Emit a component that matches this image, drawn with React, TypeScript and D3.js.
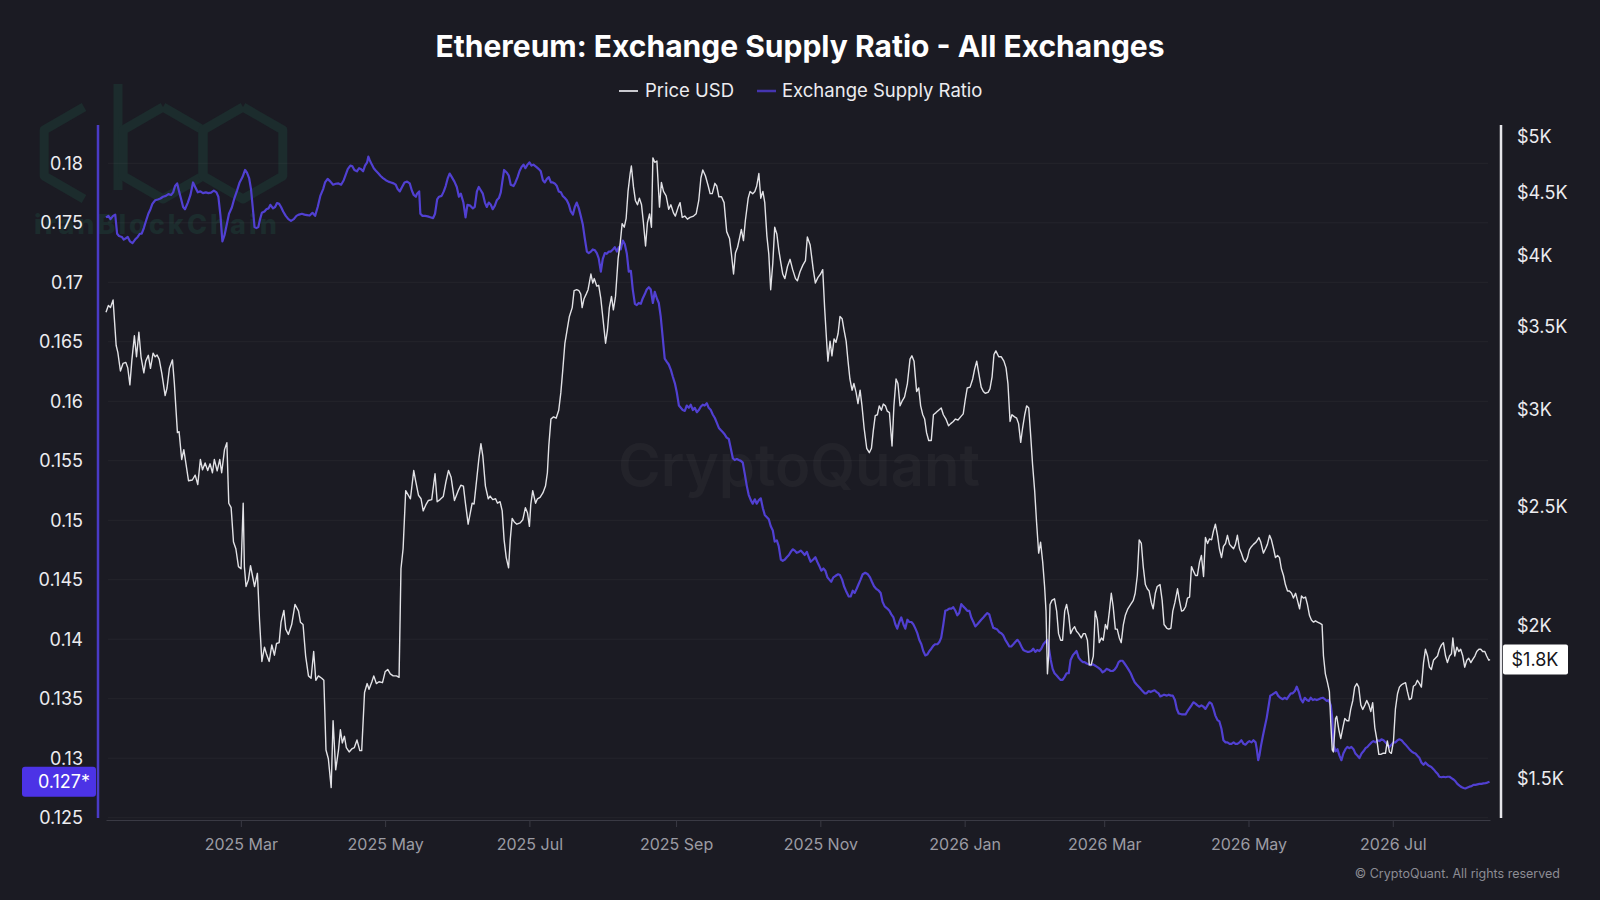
import React, { useEffect, useRef } from 'react';
import * as d3 from 'd3';

const TITLE = 'Ethereum: Exchange Supply Ratio - All Exchanges';
const LEGEND = ['Price USD', 'Exchange Supply Ratio'];
const COPYRIGHT = '\u00A9 CryptoQuant. All rights reserved';
const WATERMARK = 'CryptoQuant';
const LOGO_TEXT = 'iranBlockChain';

// day offsets counted from 2025-01-01 (UTC)
const START = Date.UTC(2025, 0, 1);

// [day, ETH price in USD]
const PRICE: [number, number][] = [
  [2.0, 3600], [3.0, 3646], [3.9, 3631], [5.0, 3683], [6.3, 3382], [7.0, 3339], [8.1, 3224], [9.2, 3270],
  [10.4, 3276], [11.2, 3243], [12.1, 3141], [12.9, 3284], [14.0, 3444], [14.9, 3311], [15.9, 3467], [16.8, 3311],
  [18.0, 3213], [18.8, 3284], [19.9, 3320], [20.8, 3240], [21.9, 3334], [22.8, 3311], [23.6, 3322], [24.5, 3295],
  [25.6, 3210], [27.0, 3079], [27.8, 3123], [28.8, 3240], [30.1, 3292], [30.9, 3149], [32.2, 2872], [32.9, 2877],
  [34.0, 2731], [34.9, 2782], [36.9, 2624], [38.5, 2628], [39.7, 2652], [40.8, 2606], [41.9, 2731], [42.8, 2679],
  [43.9, 2713], [45.0, 2675], [46.0, 2709], [47.0, 2664], [47.8, 2731], [49.0, 2673], [50.1, 2731], [50.9, 2664],
  [52.1, 2782], [53.1, 2818], [53.9, 2516], [54.9, 2495], [55.9, 2339], [56.9, 2310], [58.0, 2234], [59.1, 2225],
  [60.0, 2516], [60.5, 2234], [61.2, 2152], [62.2, 2179], [63.1, 2238], [63.9, 2197], [64.8, 2152], [66.0, 2206],
  [66.9, 2021], [67.9, 1870], [69.0, 1921], [69.8, 1897], [71.0, 1870], [72.1, 1929], [73.2, 1892], [74.1, 1934],
  [75.2, 1937], [76.0, 2013], [77.2, 2058], [78.0, 1987], [79.1, 1967], [80.5, 2004], [81.9, 2081], [83.4, 2055],
  [84.2, 2013], [85.3, 2004], [86.4, 1889], [87.6, 1820], [88.7, 1812], [89.8, 1905], [90.7, 1805], [91.8, 1820],
  [93.2, 1812], [94.1, 1805], [95.0, 1584], [96.0, 1558], [97.2, 1476], [98.0, 1673], [99.1, 1526], [100.3, 1584],
  [101.1, 1645], [101.9, 1605], [102.8, 1625], [103.6, 1591], [104.8, 1578], [105.9, 1587], [107.0, 1591], [108.1, 1614],
  [109.3, 1582], [110.1, 1582], [111.3, 1764], [112.4, 1794], [113.2, 1775], [114.4, 1800], [115.2, 1820], [116.3, 1794],
  [117.4, 1800], [118.9, 1797], [120.0, 1834], [121.1, 1842], [122.2, 1827], [123.4, 1820], [124.8, 1820], [125.9, 1815],
  [126.7, 2225], [127.6, 2310], [128.7, 2576], [129.8, 2554], [130.7, 2537], [132.1, 2675], [132.9, 2624], [134.1, 2554],
  [135.2, 2537], [136.1, 2480], [137.2, 2508], [138.3, 2529], [139.7, 2533], [141.1, 2659], [142.0, 2523], [143.2, 2533],
  [144.6, 2548], [145.7, 2619], [146.8, 2675], [147.9, 2641], [149.3, 2529], [150.9, 2576], [152.0, 2602], [153.1, 2598],
  [154.0, 2512], [155.1, 2419], [156.0, 2470], [156.8, 2516], [157.6, 2512], [158.8, 2641], [159.6, 2731], [160.5, 2813],
  [161.3, 2750], [162.4, 2598], [163.6, 2537], [164.4, 2550], [165.5, 2533], [166.7, 2537], [167.5, 2516], [168.6, 2523],
  [169.5, 2480], [170.3, 2349], [171.2, 2272], [172.2, 2229], [172.9, 2349], [173.7, 2445], [174.6, 2429], [175.7, 2419],
  [177.1, 2425], [178.2, 2439], [179.3, 2495], [180.2, 2470], [181.0, 2409], [181.6, 2512], [182.4, 2576], [183.6, 2516],
  [184.4, 2537], [185.5, 2544], [186.7, 2565], [187.8, 2598], [188.6, 2664], [189.2, 2801], [190.1, 2946], [191.2, 2958],
  [192.3, 2951], [193.4, 2995], [194.3, 3097], [195.1, 3229], [196.0, 3396], [197.1, 3497], [197.9, 3571], [199.1, 3631],
  [199.9, 3749], [201.0, 3755], [201.9, 3749], [202.7, 3724], [203.3, 3631], [204.1, 3692], [205.0, 3724], [205.8, 3755],
  [207.0, 3867], [207.8, 3802], [208.4, 3834], [209.5, 3780], [210.3, 3786], [211.2, 3692], [212.0, 3571], [213.2, 3396],
  [214.0, 3482], [214.8, 3631], [215.7, 3708], [216.5, 3616], [217.4, 3708], [218.5, 3981], [219.4, 4100], [220.2, 4250],
  [221.1, 4222], [221.9, 4293], [222.7, 4515], [223.6, 4669], [224.1, 4735], [225.0, 4553], [225.8, 4439], [226.7, 4403],
  [227.5, 4458], [228.4, 4403], [229.2, 4257], [230.1, 4076], [230.9, 4257], [231.8, 4329], [232.6, 4222], [233.2, 4808],
  [234.0, 4768], [234.9, 4780], [236.0, 4384], [236.8, 4591], [237.7, 4515], [238.8, 4477], [239.9, 4366], [240.8, 4403],
  [241.9, 4337], [242.7, 4311], [243.9, 4384], [244.7, 4421], [245.6, 4300], [246.7, 4311], [247.8, 4286], [248.9, 4300],
  [250.4, 4311], [251.5, 4329], [252.6, 4439], [253.5, 4630], [254.3, 4700], [255.4, 4650], [256.6, 4561], [257.4, 4496],
  [258.3, 4496], [259.4, 4584], [260.2, 4561], [261.1, 4470], [262.2, 4470], [263.3, 4421], [264.4, 4187], [265.6, 4134],
  [266.4, 4015], [267.3, 3867], [268.1, 4022], [269.0, 4066], [269.8, 4134], [270.6, 4204], [271.5, 4117], [272.3, 4275],
  [273.5, 4458], [274.3, 4515], [275.4, 4496], [276.3, 4515], [277.1, 4561], [278.0, 4669], [278.8, 4458], [279.7, 4515],
  [280.5, 4421], [281.4, 4152], [282.2, 4015], [283.0, 3755], [283.9, 3948], [284.7, 4222], [285.6, 4169], [286.4, 4049],
  [287.3, 3948], [288.1, 3867], [289.0, 3834], [290.1, 3922], [291.2, 3975], [292.3, 3899], [293.5, 3834], [294.3, 3818],
  [295.4, 3883], [296.6, 3932], [297.7, 3965], [298.5, 4145], [299.7, 4083], [301.0, 3899], [301.9, 3802], [303.0, 3843],
  [304.1, 3867], [305.0, 3899], [305.8, 3631], [306.7, 3396], [307.2, 3284], [308.1, 3410], [308.9, 3317], [309.8, 3424],
  [310.6, 3402], [311.5, 3459], [312.3, 3571], [313.2, 3556], [314.0, 3482], [314.9, 3410], [315.7, 3284], [316.5, 3176],
  [317.4, 3110], [318.2, 3149], [319.1, 3097], [319.9, 3033], [320.8, 3110], [321.6, 3020], [322.5, 2897], [323.6, 2789],
  [324.7, 2766], [325.6, 2789], [326.4, 2884], [327.2, 2965], [328.1, 2970], [328.9, 3020], [329.8, 2995], [330.6, 3030],
  [331.5, 3020], [332.3, 2990], [333.2, 2982], [334.3, 2801], [335.1, 3020], [336.0, 3176], [336.8, 3149], [337.7, 3020],
  [338.5, 3045], [339.6, 3071], [340.8, 3149], [341.9, 3297], [342.7, 3317], [343.6, 3284], [344.7, 3102], [345.6, 3123],
  [346.4, 3020], [347.3, 2970], [348.1, 2946], [348.9, 2872], [349.8, 2830], [350.9, 2830], [351.8, 2970], [352.9, 2982],
  [354.0, 2995], [355.1, 3008], [356.0, 2970], [357.1, 2946], [358.2, 2909], [359.1, 2921], [360.2, 2933], [361.1, 2946],
  [362.2, 2941], [363.3, 2958], [364.4, 2975], [365.3, 3058], [366.1, 3123], [367.3, 3128], [368.4, 3176], [369.2, 3234],
  [370.1, 3284], [370.9, 3216], [372.0, 3128], [372.9, 3102], [373.7, 3092], [374.9, 3097], [375.7, 3118], [376.6, 3189],
  [377.4, 3325], [378.2, 3348], [379.4, 3311], [380.5, 3311], [381.6, 3284], [382.5, 3243], [383.3, 3149], [384.2, 2933],
  [385.0, 2970], [386.1, 2958], [387.0, 2951], [387.8, 2921], [388.7, 2820], [389.5, 2897], [390.4, 2970], [391.2, 3020],
  [392.1, 3008], [392.9, 2860], [393.7, 2708], [394.6, 2576], [395.4, 2429], [396.3, 2291], [397.1, 2339], [398.0, 2253],
  [398.8, 2152], [399.4, 2055], [400.0, 1827], [400.5, 1889], [401.1, 2081], [401.9, 2097], [403.0, 2103], [403.9, 2055],
  [404.7, 1970], [405.6, 1946], [406.4, 1946], [407.3, 2055], [408.1, 2081], [409.0, 2038], [409.8, 1970], [410.7, 1987],
  [411.5, 1996], [412.3, 1979], [413.2, 1970], [414.3, 1954], [415.2, 1970], [416.0, 1970], [416.9, 1946], [417.7, 1858],
  [418.5, 1858], [419.4, 1889], [420.2, 2055], [421.1, 2021], [421.9, 1937], [422.8, 1954], [423.6, 1946], [424.5, 2004],
  [425.3, 1987], [426.2, 2055], [427.0, 2125], [427.8, 2072], [428.7, 1987], [429.5, 1987], [430.4, 1954], [431.2, 1937],
  [432.1, 2004], [432.9, 2038], [434.0, 2064], [435.2, 2081], [436.3, 2097], [437.1, 2125], [438.0, 2197], [438.8, 2349],
  [439.7, 2333], [440.5, 2234], [441.4, 2160], [442.2, 2143], [443.0, 2134], [443.9, 2089], [444.7, 2064], [445.6, 2125],
  [446.4, 2152], [447.6, 2160], [448.5, 2097], [449.3, 2004], [450.5, 1990], [451.3, 1987], [452.2, 1990], [453.0, 2055],
  [453.9, 2089], [455.0, 2143], [455.8, 2097], [456.7, 2055], [457.5, 2058], [458.4, 2072], [459.2, 2106], [460.1, 2110],
  [460.9, 2234], [461.7, 2216], [462.6, 2197], [463.4, 2197], [464.3, 2253], [465.1, 2281], [466.0, 2193], [466.8, 2359],
  [467.7, 2333], [468.5, 2353], [469.4, 2349], [470.2, 2389], [471.0, 2419], [471.9, 2369], [472.7, 2310], [473.6, 2272],
  [474.4, 2320], [475.3, 2333], [476.1, 2369], [477.0, 2329], [477.8, 2320], [478.7, 2310], [479.5, 2329], [480.3, 2369],
  [481.2, 2310], [482.0, 2291], [482.9, 2263], [483.7, 2253], [484.6, 2272], [485.4, 2306], [486.3, 2320], [487.1, 2329],
  [488.2, 2339], [489.4, 2359], [490.2, 2339], [491.3, 2291], [492.2, 2310], [493.0, 2329], [493.9, 2369], [494.7, 2349],
  [495.6, 2310], [496.4, 2272], [497.3, 2281], [498.1, 2272], [498.9, 2225], [499.8, 2197], [500.6, 2160], [501.5, 2134],
  [502.3, 2134], [503.2, 2125], [504.0, 2106], [504.9, 2125], [505.7, 2097], [506.6, 2064], [507.4, 2114], [508.2, 2106],
  [509.1, 2110], [509.9, 2081], [510.8, 2038], [511.6, 2021], [512.5, 2013], [513.3, 2018], [514.2, 2013], [515.3, 2008],
  [516.1, 2004], [516.7, 1889], [517.5, 1827], [518.4, 1797], [519.2, 1767], [519.8, 1666], [520.4, 1584], [520.9, 1578],
  [521.8, 1680], [522.3, 1687], [523.2, 1645], [524.0, 1618], [524.9, 1652], [525.7, 1680], [526.6, 1673], [527.4, 1673],
  [528.2, 1709], [529.1, 1738], [529.9, 1782], [530.8, 1794], [531.6, 1782], [532.5, 1723], [533.3, 1709], [534.2, 1723],
  [535.0, 1738], [535.9, 1723], [536.7, 1702], [537.5, 1731], [538.4, 1652], [539.2, 1618], [540.1, 1571], [540.9, 1571],
  [541.8, 1574], [542.9, 1574], [543.7, 1611], [544.6, 1578], [545.4, 1574], [546.3, 1611], [547.1, 1709], [548.0, 1760],
  [548.8, 1782], [549.7, 1790], [550.5, 1794], [551.4, 1797], [552.2, 1767], [553.0, 1741], [553.9, 1745], [554.7, 1785],
  [555.6, 1790], [556.4, 1805], [557.3, 1794], [558.1, 1782], [559.0, 1866], [559.8, 1913], [560.7, 1889], [561.5, 1850],
  [562.3, 1842], [563.2, 1874], [564.0, 1881], [564.9, 1889], [565.7, 1913], [566.6, 1929], [567.4, 1937], [568.3, 1889],
  [569.1, 1866], [570.0, 1889], [570.8, 1897], [571.4, 1954], [572.2, 1889], [573.1, 1921], [573.9, 1905], [574.7, 1913],
  [575.6, 1889], [576.4, 1850], [577.3, 1874], [578.1, 1881], [579.0, 1866], [579.8, 1877], [580.7, 1889], [581.5, 1905],
  [582.4, 1913], [583.2, 1913], [584.0, 1905], [584.9, 1905], [585.7, 1889], [586.6, 1874], [587.1, 1877],
];

// [day, exchange supply ratio]
const RATIO: [number, number][] = [
  [2.0, 0.17546], [3.0, 0.17558], [3.9, 0.17531], [5.0, 0.17558], [5.9, 0.17569], [6.7, 0.17408], [7.5, 0.17389], [8.7, 0.17381],
  [9.5, 0.17359], [10.4, 0.1737], [11.2, 0.17381], [12.1, 0.17344], [13.2, 0.17329], [14.3, 0.17359], [15.4, 0.17381], [16.3, 0.17408],
  [17.1, 0.17408], [18.0, 0.17456], [18.8, 0.17509], [19.9, 0.17576], [20.8, 0.17614], [21.6, 0.17659], [22.8, 0.17689], [23.9, 0.17696],
  [25.0, 0.17704], [26.1, 0.17719], [27.3, 0.17726], [28.4, 0.17741], [29.5, 0.17734], [30.4, 0.17756], [31.2, 0.17809], [32.1, 0.17831],
  [32.9, 0.17764], [33.8, 0.17696], [34.6, 0.17633], [35.4, 0.17614], [36.6, 0.1767], [37.7, 0.17734], [38.8, 0.17839], [39.7, 0.17801],
  [40.8, 0.17756], [41.9, 0.17764], [43.0, 0.17749], [44.2, 0.17756], [45.3, 0.17749], [46.4, 0.17753], [47.6, 0.17771], [48.7, 0.17756],
  [49.5, 0.17719], [50.4, 0.17558], [51.2, 0.17344], [52.1, 0.17396], [52.9, 0.17471], [54.0, 0.17576], [55.2, 0.17629], [56.3, 0.17708],
  [57.4, 0.17771], [58.5, 0.17839], [59.7, 0.17884], [60.8, 0.17944], [61.6, 0.17921], [62.5, 0.17876], [63.3, 0.17783], [64.2, 0.17595],
  [64.8, 0.17464], [65.6, 0.17456], [66.4, 0.17464], [67.0, 0.1752], [67.9, 0.17584], [69.0, 0.17595], [69.8, 0.17614], [70.7, 0.17621],
  [71.5, 0.17651], [72.6, 0.17621], [73.5, 0.17633], [74.3, 0.17666], [75.2, 0.17659], [76.0, 0.17633], [76.9, 0.17595], [78.0, 0.17558],
  [79.1, 0.17531], [80.2, 0.17516], [81.4, 0.17531], [82.5, 0.17558], [83.6, 0.17569], [84.8, 0.17576], [85.9, 0.17569], [87.0, 0.17565],
  [88.1, 0.17561], [89.3, 0.17584], [90.4, 0.17558], [91.5, 0.17633], [92.6, 0.17726], [93.8, 0.17783], [94.6, 0.17839], [95.7, 0.17869],
  [96.9, 0.17846], [98.0, 0.1782], [99.1, 0.17828], [100.3, 0.17831], [101.4, 0.1782], [102.5, 0.17858], [103.4, 0.17906], [104.2, 0.17951],
  [105.3, 0.17981], [106.2, 0.17974], [107.0, 0.17944], [108.1, 0.17933], [109.0, 0.17959], [109.8, 0.17951], [110.7, 0.17933], [111.5, 0.17981],
  [112.4, 0.18008], [112.9, 0.18056], [113.5, 0.18026], [114.4, 0.17989], [115.2, 0.17959], [116.0, 0.1794], [117.2, 0.17914], [118.0, 0.17895],
  [119.1, 0.17876], [120.3, 0.17858], [121.4, 0.17846], [122.5, 0.17839], [123.6, 0.17831], [124.5, 0.1782], [125.3, 0.17783], [126.2, 0.17764],
  [127.0, 0.17794], [128.2, 0.17839], [129.3, 0.17846], [130.4, 0.17831], [131.3, 0.17771], [132.1, 0.17734], [133.0, 0.17719], [133.5, 0.17745],
  [134.4, 0.17764], [134.9, 0.17576], [135.8, 0.17558], [136.9, 0.17558], [138.0, 0.17554], [139.1, 0.17546], [140.3, 0.17539], [141.1, 0.17576],
  [142.0, 0.17696], [142.8, 0.17719], [143.9, 0.17726], [144.8, 0.17764], [145.6, 0.17809], [146.5, 0.17876], [147.3, 0.17914], [148.2, 0.17884],
  [149.3, 0.17846], [150.3, 0.17801], [151.2, 0.17719], [152.0, 0.17745], [153.1, 0.1767], [154.0, 0.17546], [154.8, 0.17651], [156.0, 0.17644],
  [157.1, 0.17621], [157.9, 0.17633], [158.8, 0.17764], [159.6, 0.17801], [160.5, 0.17771], [161.3, 0.17745], [162.2, 0.1767], [163.0, 0.17633],
  [163.8, 0.1767], [164.7, 0.17651], [165.5, 0.17614], [166.4, 0.17644], [167.2, 0.17689], [168.1, 0.17708], [168.9, 0.17756], [169.5, 0.17839],
  [170.3, 0.17944], [171.5, 0.17921], [172.3, 0.17895], [173.1, 0.1782], [174.3, 0.17809], [175.1, 0.17839], [176.0, 0.17884], [176.8, 0.17933],
  [177.7, 0.1797], [178.5, 0.17989], [179.3, 0.17959], [180.2, 0.17989], [181.0, 0.18008], [181.9, 0.17981], [182.7, 0.17989], [183.9, 0.1797],
  [185.0, 0.17951], [185.8, 0.17933], [186.7, 0.17858], [187.5, 0.17839], [188.4, 0.17869], [189.2, 0.17884], [190.1, 0.17839], [190.9, 0.17839],
  [191.7, 0.17831], [192.6, 0.17809], [193.4, 0.17764], [194.3, 0.17756], [195.1, 0.17726], [196.0, 0.17708], [196.8, 0.17689], [197.7, 0.17651],
  [198.5, 0.17595], [199.4, 0.17569], [200.2, 0.17633], [201.0, 0.1767], [201.9, 0.17621], [202.7, 0.17558], [203.6, 0.17483], [204.4, 0.1737],
  [205.3, 0.17258], [206.1, 0.17246], [207.0, 0.17258], [207.8, 0.17276], [208.7, 0.17269], [209.5, 0.17246], [210.3, 0.17201], [211.2, 0.17089],
  [212.0, 0.17194], [212.9, 0.17246], [213.7, 0.17239], [214.6, 0.17258], [215.4, 0.17258], [216.3, 0.17276], [217.1, 0.17295], [218.0, 0.17258],
  [218.8, 0.17295], [219.6, 0.17276], [220.5, 0.17351], [221.3, 0.17321], [222.2, 0.17239], [223.0, 0.17089], [223.9, 0.17096], [224.7, 0.16939],
  [225.6, 0.16819], [226.4, 0.16808], [227.2, 0.16826], [228.1, 0.16819], [228.9, 0.16864], [229.8, 0.16901], [230.6, 0.16939], [231.5, 0.16958],
  [232.3, 0.16939], [233.2, 0.16826], [234.0, 0.1692], [234.9, 0.16864], [235.7, 0.16826], [236.5, 0.16714], [237.4, 0.16526], [238.2, 0.16358],
  [239.1, 0.16331], [239.9, 0.16309], [240.8, 0.16264], [241.6, 0.16208], [242.5, 0.16151], [243.3, 0.16076], [244.2, 0.15964], [245.0, 0.15945],
  [245.8, 0.15926], [246.7, 0.15919], [247.5, 0.15964], [248.4, 0.15945], [249.2, 0.15971], [250.1, 0.15926], [250.9, 0.15945], [251.8, 0.15908],
  [252.6, 0.15926], [253.5, 0.15956], [254.3, 0.15971], [255.1, 0.15964], [256.0, 0.15983], [256.8, 0.15945], [257.7, 0.15926], [258.5, 0.15889],
  [259.4, 0.15859], [260.2, 0.15821], [261.1, 0.15776], [261.9, 0.15758], [262.8, 0.15739], [263.6, 0.1572], [264.4, 0.15694], [265.3, 0.15683],
  [266.1, 0.15608], [267.0, 0.15521], [267.8, 0.15506], [268.7, 0.15514], [269.5, 0.15506], [270.4, 0.15499], [271.2, 0.15484], [272.1, 0.15383],
  [272.9, 0.15289], [273.7, 0.15214], [274.6, 0.15169], [275.4, 0.15139], [276.3, 0.15176], [277.1, 0.15139], [278.0, 0.15169], [278.8, 0.15184],
  [279.7, 0.15101], [280.5, 0.15045], [281.4, 0.15026], [282.2, 0.15008], [283.0, 0.14951], [283.9, 0.14914], [284.7, 0.1482], [285.6, 0.14831],
  [286.4, 0.14783], [287.3, 0.1467], [288.1, 0.14659], [289.0, 0.1467], [289.8, 0.14689], [290.7, 0.14708], [291.5, 0.14734], [292.3, 0.14756],
  [293.2, 0.14745], [294.0, 0.14726], [294.9, 0.14734], [295.7, 0.14745], [296.6, 0.14726], [297.4, 0.14708], [298.3, 0.14734], [299.1, 0.14689],
  [299.9, 0.14651], [301.0, 0.1467], [301.9, 0.14689], [302.7, 0.14651], [303.6, 0.14614], [304.4, 0.14576], [305.3, 0.14595], [306.1, 0.14576],
  [307.0, 0.1452], [307.8, 0.14501], [308.6, 0.14483], [309.5, 0.1452], [310.3, 0.14531], [311.5, 0.14546], [312.3, 0.14539], [313.2, 0.14501],
  [314.0, 0.14445], [314.8, 0.14408], [316.0, 0.14359], [316.8, 0.14359], [317.7, 0.14408], [318.5, 0.14389], [319.4, 0.14426], [320.2, 0.14464],
  [321.0, 0.14501], [321.9, 0.14546], [323.0, 0.14558], [324.1, 0.14546], [325.0, 0.1452], [325.8, 0.14483], [326.7, 0.14445], [327.5, 0.14426],
  [328.7, 0.14408], [329.5, 0.14389], [330.3, 0.14314], [331.2, 0.14276], [332.3, 0.14258], [333.2, 0.14239], [334.0, 0.14209], [334.9, 0.14183],
  [335.7, 0.14126], [336.5, 0.14089], [337.4, 0.14145], [338.2, 0.14183], [339.1, 0.14126], [339.9, 0.14089], [340.8, 0.14164], [341.6, 0.14145],
  [342.5, 0.14145], [343.3, 0.14126], [344.2, 0.14089], [345.0, 0.14051], [345.8, 0.13995], [346.7, 0.13958], [347.5, 0.13901], [348.4, 0.13864],
  [349.2, 0.13871], [350.1, 0.13901], [350.9, 0.1392], [351.8, 0.13946], [352.6, 0.13958], [353.5, 0.13958], [354.3, 0.13976], [355.1, 0.14014],
  [356.0, 0.14126], [356.8, 0.14239], [357.7, 0.14246], [358.5, 0.14258], [359.4, 0.14258], [360.2, 0.14269], [361.1, 0.14239], [361.9, 0.14201],
  [362.7, 0.1422], [363.6, 0.14295], [364.4, 0.14276], [365.3, 0.14258], [366.1, 0.14239], [367.0, 0.14239], [367.8, 0.14183], [368.7, 0.14145],
  [369.5, 0.14108], [370.4, 0.14126], [371.2, 0.14145], [372.0, 0.14164], [372.9, 0.14183], [373.7, 0.14201], [374.6, 0.1422], [375.4, 0.14209],
  [376.3, 0.14145], [377.1, 0.14096], [378.0, 0.14089], [378.8, 0.14081], [379.7, 0.14059], [380.5, 0.14051], [381.3, 0.14033], [382.2, 0.13995],
  [383.0, 0.13969], [383.9, 0.13939], [384.7, 0.13939], [385.6, 0.13958], [386.4, 0.13976], [387.3, 0.13995], [388.1, 0.13976], [389.0, 0.13939],
  [389.8, 0.13909], [390.6, 0.13901], [391.5, 0.13894], [392.3, 0.13894], [393.2, 0.13901], [394.0, 0.1392], [394.9, 0.13894], [395.7, 0.13909],
  [396.6, 0.13901], [397.4, 0.1392], [398.3, 0.13958], [399.1, 0.13976], [399.9, 0.13995], [400.5, 0.13939], [401.4, 0.13826], [402.2, 0.13751],
  [403.0, 0.13714], [403.9, 0.13695], [404.7, 0.13676], [405.6, 0.13658], [406.4, 0.13658], [407.3, 0.13684], [408.1, 0.13714], [409.0, 0.13714],
  [409.8, 0.13826], [410.7, 0.13864], [411.5, 0.13883], [412.3, 0.13901], [413.2, 0.13845], [414.0, 0.13826], [414.9, 0.13808], [415.7, 0.13808],
  [416.6, 0.13796], [417.4, 0.13789], [418.3, 0.13781], [419.1, 0.13789], [419.9, 0.13781], [420.8, 0.1377], [421.6, 0.13759], [422.5, 0.13744],
  [423.3, 0.13721], [424.2, 0.13733], [425.0, 0.13751], [425.9, 0.13744], [426.7, 0.13733], [427.6, 0.13733], [428.4, 0.13744], [429.3, 0.1377],
  [430.1, 0.13808], [430.9, 0.13819], [431.8, 0.13819], [432.6, 0.13796], [433.5, 0.1377], [434.3, 0.13744], [435.2, 0.13714], [436.0, 0.13676],
  [436.9, 0.13639], [437.7, 0.1362], [438.6, 0.13601], [439.4, 0.13583], [440.2, 0.13564], [441.1, 0.13545], [441.9, 0.13545], [442.8, 0.13564],
  [443.6, 0.13556], [444.5, 0.13564], [445.3, 0.13571], [446.2, 0.13556], [447.0, 0.13545], [447.7, 0.13519], [448.5, 0.13526], [449.3, 0.13534],
  [450.5, 0.13526], [451.3, 0.13534], [452.2, 0.13526], [453.0, 0.13526], [453.9, 0.13489], [454.7, 0.13414], [455.5, 0.13376], [456.7, 0.13369],
  [457.5, 0.13369], [458.4, 0.13369], [459.2, 0.13395], [460.1, 0.13421], [460.9, 0.13444], [461.7, 0.1347], [462.6, 0.13459], [463.4, 0.13444],
  [464.3, 0.13433], [465.1, 0.13444], [466.0, 0.13433], [466.8, 0.13414], [467.7, 0.13444], [468.5, 0.1347], [469.4, 0.13459], [470.2, 0.13414],
  [471.0, 0.13358], [471.9, 0.1332], [472.7, 0.13309], [473.6, 0.13245], [474.4, 0.13151], [475.3, 0.13133], [476.1, 0.13133], [477.0, 0.13121],
  [477.8, 0.13121], [478.7, 0.13133], [479.5, 0.13121], [480.3, 0.13121], [481.2, 0.13133], [482.0, 0.13151], [482.9, 0.13121], [483.7, 0.13114],
  [484.6, 0.13133], [485.4, 0.13144], [486.3, 0.13133], [487.1, 0.13151], [488.0, 0.13133], [488.5, 0.13076], [489.1, 0.12983], [489.6, 0.1302],
  [490.2, 0.13095], [491.1, 0.13189], [491.9, 0.13264], [492.7, 0.13339], [493.6, 0.13451], [494.2, 0.13526], [495.0, 0.13534], [495.8, 0.13545],
  [496.7, 0.13556], [497.5, 0.13526], [498.4, 0.13508], [499.5, 0.13496], [500.4, 0.13508], [501.2, 0.13496], [502.0, 0.13519], [502.9, 0.13545],
  [503.7, 0.13545], [504.6, 0.13564], [505.4, 0.13601], [506.3, 0.13556], [507.1, 0.13496], [508.0, 0.1347], [508.8, 0.13508], [509.7, 0.13489],
  [510.5, 0.13481], [511.3, 0.13508], [512.2, 0.13489], [513.0, 0.13496], [513.9, 0.13489], [514.7, 0.13496], [515.6, 0.13504], [516.4, 0.13508],
  [517.3, 0.13496], [518.1, 0.13481], [518.9, 0.13489], [519.8, 0.13444], [520.4, 0.13339], [520.9, 0.13114], [521.8, 0.13058], [522.6, 0.13076],
  [523.5, 0.1302], [524.3, 0.12983], [525.1, 0.13039], [526.0, 0.13076], [526.8, 0.13095], [527.7, 0.13084], [528.5, 0.13095], [529.4, 0.13076],
  [530.2, 0.13039], [531.1, 0.1302], [531.9, 0.13001], [532.8, 0.13039], [533.6, 0.13058], [534.5, 0.13084], [535.3, 0.13095], [536.1, 0.13114],
  [537.0, 0.13133], [537.8, 0.13144], [538.7, 0.13133], [539.5, 0.13151], [540.4, 0.13144], [541.2, 0.13159], [542.1, 0.13151], [542.9, 0.13133],
  [543.7, 0.13114], [544.6, 0.13095], [545.4, 0.13114], [546.3, 0.13133], [547.1, 0.13133], [548.0, 0.13151], [548.8, 0.13159], [549.7, 0.13151],
  [550.5, 0.13133], [551.4, 0.13114], [552.2, 0.13095], [553.0, 0.13076], [553.9, 0.13058], [554.7, 0.13046], [555.6, 0.13039], [556.4, 0.1302],
  [557.3, 0.13001], [558.1, 0.12964], [559.0, 0.12945], [559.8, 0.12964], [560.7, 0.12945], [561.5, 0.12934], [562.3, 0.12926], [563.2, 0.12908],
  [564.0, 0.12889], [564.9, 0.1287], [565.7, 0.12844], [566.6, 0.1284], [567.4, 0.12844], [568.3, 0.1284], [569.1, 0.12844], [570.0, 0.12844],
  [570.8, 0.12833], [571.7, 0.12821], [572.5, 0.12806], [573.3, 0.12784], [574.2, 0.12769], [575.0, 0.12758], [575.9, 0.1275], [576.7, 0.12746],
  [577.6, 0.12754], [578.4, 0.12761], [579.3, 0.12765], [580.1, 0.12776], [581.0, 0.12776], [581.8, 0.1278], [582.6, 0.12784], [583.5, 0.12784],
  [584.3, 0.12788], [585.2, 0.12791], [586.0, 0.12795], [586.9, 0.12802],
];

const RATIO_TICKS = [0.125, 0.13, 0.135, 0.14, 0.145, 0.15, 0.155, 0.16, 0.165, 0.17, 0.175, 0.18];
const PRICE_TICKS = [1500, 2000, 2500, 3000, 3500, 4000, 4500, 5000];
const RATIO_BADGE = '0.127*';
const PRICE_BADGE = '$1.8K';

const toDate = (d: number) => new Date(START + d * 864e5);

const ExchangeSupplyChart: React.FC = () => {
  const svgRef = useRef<SVGSVGElement>(null);
  const width = 1600;
  const height = 900;

  useEffect(() => {
    if (!svgRef.current) return;
    const svg = d3.select(svgRef.current);
    svg.selectAll('*').remove();

    const font = 'Inter, "Noto Sans", sans-serif';
    const colors = {
      bg: '#1b1b23', text: '#ececf0', subtext: '#9b9ba3', grid: 'rgba(255,255,255,0.045)',
      price: '#e2e2e6', ratio: '#5140d2', ratioAxis: '#4a3bc6', badge: '#4c33e6', logo: '#1c2c2d',
    };
    const plot = { left: 98, right: 1501, top: 125, bottom: 818 };

    svg.append('rect').attr('width', width).attr('height', height).attr('fill', colors.bg);

    // faint third-party logo watermark (top-left)
    const logo = svg.append('g').attr('fill', 'none').attr('stroke', colors.logo).attr('stroke-width', 9).attr('stroke-linejoin', 'round');
    const hex = (cx: number, cy: number, r: number) => d3.range(7).map(i => {
      const a = Math.PI / 180 * (60 * i - 90);
      return [cx + r * Math.cos(a), cy + r * Math.sin(a)] as [number, number];
    });
    const half = hex(84, 153, 46).slice(3, 7);
    logo.append('path').attr('d', d3.line()(half));
    logo.append('line').attr('x1', 118).attr('x2', 118).attr('y1', 84).attr('y2', 190);
    logo.append('path').attr('d', d3.line()(hex(163, 153, 46)));
    logo.append('path').attr('d', d3.line()(hex(243, 153, 46)));
    svg.append('text').attr('x', 34).attr('y', 234).attr('fill', colors.logo).style('font-family', font)
      .style('font-weight', 800).style('font-size', '27px').style('letter-spacing', '3px').text(LOGO_TEXT);

    svg.append('text').attr('x', 799).attr('y', 466).attr('dy', '0.35em').attr('text-anchor', 'middle')
      .attr('fill', 'rgba(255,255,255,0.035)').style('font-family', font).style('font-weight', 600).style('font-size', '58px').text(WATERMARK);

    // title + legend
    svg.append('text').attr('x', 800).attr('y', 57).attr('text-anchor', 'middle').attr('fill', '#ffffff')
      .style('font-family', font).style('font-weight', 700).style('font-size', '30px').text(TITLE);
    const legend = svg.append('g').style('font-family', font).style('font-size', '18.5px');
    legend.append('line').attr('x1', 619).attr('x2', 638).attr('y1', 91).attr('y2', 91).attr('stroke', '#c9c9cf').attr('stroke-width', 2);
    legend.append('text').attr('x', 645).attr('y', 97).attr('fill', colors.text).text(LEGEND[0]);
    legend.append('line').attr('x1', 757).attr('x2', 776).attr('y1', 91).attr('y2', 91).attr('stroke', '#4535b0').attr('stroke-width', 2.5);
    legend.append('text').attr('x', 782).attr('y', 97).attr('fill', colors.text).text(LEGEND[1]);

    const x = d3.scaleTime().domain([toDate(2), toDate(587.1)]).range([106, 1490]);
    const yL = d3.scaleLinear().domain([0.125, 0.18]).range([817.7, 163.3]);
    const yR = d3.scaleLog().domain([1500, 5000]).range([779, 137]);

    // gridlines
    svg.append('g').selectAll('line').data(RATIO_TICKS).enter().append('line')
      .attr('x1', 108).attr('x2', 1488).attr('y1', d => yL(d)).attr('y2', d => yL(d))
      .attr('stroke', colors.grid).attr('stroke-width', 1);

    // x axis
    const xAxis = d3.axisBottom(x).ticks(d3.utcMonth.every(2)).tickFormat(d => d3.utcFormat('%Y %b')(d as Date))
      .tickSize(7).tickSizeOuter(0).tickPadding(12);
    const gx = svg.append('g').attr('transform', `translate(0,${plot.bottom + 2})`).call(xAxis);
    gx.select('.domain').attr('stroke', '#3a3a44');
    gx.selectAll('.tick line').attr('stroke', '#3a3a44');
    gx.selectAll('.tick text').attr('fill', colors.subtext).style('font-family', font).style('font-size', '16px');

    // left axis
    svg.append('line').attr('x1', plot.left).attr('x2', plot.left).attr('y1', plot.top).attr('y2', plot.bottom)
      .attr('stroke', colors.ratioAxis).attr('stroke-width', 2.5);
    svg.append('g').selectAll('text').data(RATIO_TICKS).enter().append('text')
      .attr('x', 83).attr('y', d => yL(d)).attr('dy', '0.35em').attr('text-anchor', 'end')
      .attr('fill', colors.text).style('font-family', font).style('font-size', '18px')
      .text(d => String(+d.toFixed(3)));

    // right axis
    svg.append('line').attr('x1', plot.right).attr('x2', plot.right).attr('y1', plot.top).attr('y2', plot.bottom)
      .attr('stroke', '#e6e6ea').attr('stroke-width', 2.5);
    svg.append('g').selectAll('text').data(PRICE_TICKS).enter().append('text')
      .attr('x', 1517).attr('y', d => yR(d)).attr('dy', '0.35em')
      .attr('fill', colors.text).style('font-family', font).style('font-size', '18px')
      .text(d => `$${d / 1000}K`);

    // series
    const ratioLine = d3.line<[number, number]>().x(d => x(toDate(d[0]))).y(d => yL(d[1]));
    const priceLine = d3.line<[number, number]>().x(d => x(toDate(d[0]))).y(d => yR(d[1]));
    svg.append('path').datum(RATIO).attr('fill', 'none').attr('stroke', colors.ratio).attr('stroke-width', 2.2)
      .attr('stroke-linejoin', 'round').attr('d', ratioLine);
    svg.append('path').datum(PRICE).attr('fill', 'none').attr('stroke', colors.price).attr('stroke-width', 1.4)
      .attr('stroke-linejoin', 'round').attr('d', priceLine);

    // last value badges
    const lastRatio = RATIO[RATIO.length - 1][1];
    const rb = svg.append('g').attr('transform', `translate(0,${yL(lastRatio)})`);
    rb.append('rect').attr('x', 22).attr('y', -15).attr('width', 74).attr('height', 30).attr('rx', 3).attr('fill', colors.badge);
    rb.append('text').attr('x', 90).attr('dy', '0.35em').attr('text-anchor', 'end').attr('fill', '#ffffff')
      .style('font-family', font).style('font-size', '18px').text(RATIO_BADGE);

    const lastPrice = PRICE[PRICE.length - 1][1];
    const pb = svg.append('g').attr('transform', `translate(0,${yR(lastPrice)})`);
    pb.append('rect').attr('x', 1503).attr('y', -15).attr('width', 65).attr('height', 30).attr('rx', 2).attr('fill', '#ffffff');
    pb.append('text').attr('x', 1535).attr('dy', '0.35em').attr('text-anchor', 'middle').attr('fill', '#15151b')
      .style('font-family', font).style('font-size', '18px').text(PRICE_BADGE);

    svg.append('text').attr('x', 1560).attr('y', 878).attr('text-anchor', 'end').attr('fill', '#8c8c94')
      .style('font-family', font).style('font-size', '12.5px').text(COPYRIGHT);
  }, []);

  return <svg ref={svgRef} width={width} height={height} viewBox={`0 0 ${width} ${height}`}
    style={{ position: 'absolute', left: 0, top: 0, display: 'block' }} />;
};

export default function App() {
  return <ExchangeSupplyChart />;
}
